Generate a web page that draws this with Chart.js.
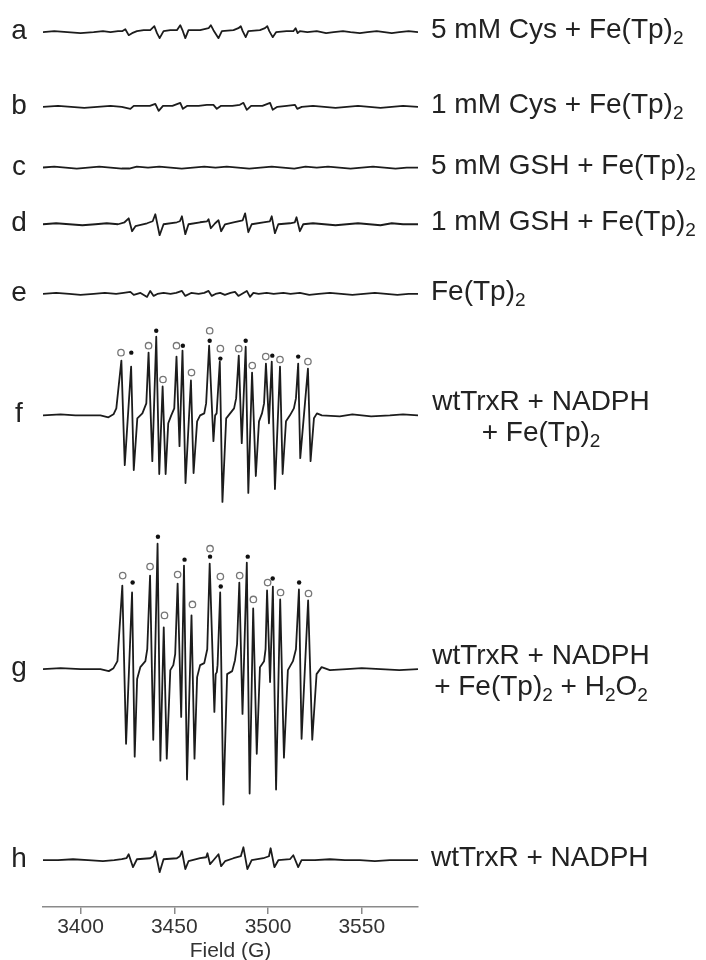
<!DOCTYPE html>
<html>
<head>
<meta charset="utf-8">
<script src="https://cdn.jsdelivr.net/npm/chart.js@4.4.0/dist/chart.umd.min.js"></script>
<style>
  html, body { margin: 0; padding: 0; background: #fff; }
  canvas { display: block; }
</style>
</head>
<body>
<canvas id="eprChart" width="706" height="960"></canvas>
<script>
// stacked EPR spectra, top to bottom
const traceIds = ['a', 'b', 'c', 'd', 'e', 'f', 'g', 'h'];
const traceLabels = [
  ['5 mM Cys + Fe(Tp)_2'],
  ['1 mM Cys + Fe(Tp)_2'],
  ['5 mM GSH + Fe(Tp)_2'],
  ['1 mM GSH + Fe(Tp)_2'],
  ['Fe(Tp)_2'],
  ['wtTrxR + NADPH', '+ Fe(Tp)_2'],
  ['wtTrxR + NADPH', '+ Fe(Tp)_2 + H_2O_2'],
  ['wtTrxR + NADPH'],
];
const tickFields = [3400, 3450, 3500, 3550];

// [field (G), signal]
const traceA = [[3380,0],[3386,1],[3393,0],[3400,-1],[3407,0],[3412,1],[3416,0],[3420,1],[3422.2,1],[3423.9,3],[3425.7,-3],[3427.5,-1],[3430.1,1],[3433.7,2],[3437.2,2],[3439.4,6],[3440.8,-1],[3442.2,-6],[3444.3,1],[3447.9,2],[3451.4,2],[3453.2,7],[3454.6,1],[3455.9,-6],[3457.6,2],[3463.8,2],[3468.3,4],[3469.5,7],[3470.9,2],[3473.6,-6],[3475.4,1],[3481.6,2],[3484.2,4],[3485.5,6],[3486.5,1],[3488.1,-5],[3489.5,1],[3495.7,2],[3498.4,4],[3499.6,6],[3500.7,1],[3502.5,-5],[3504.3,0],[3509.9,1],[3513.5,1],[3514.7,4],[3515.8,-1],[3517,1],[3521,0],[3526,1],[3531,-1],[3535,0],[3540,1],[3544,0],[3549,-1],[3553,0],[3558,1],[3562,0],[3566,-1],[3570,0],[3575,1],[3580,0]];
const traceB = [[3380,0],[3388,1],[3395,0],[3402,-1],[3409,0],[3416,1],[3422,0],[3426.6,-2],[3428.4,1],[3433,1],[3437,1],[3439.9,3],[3441.7,-4],[3444,1],[3449,1],[3453.2,4],[3454.6,-2],[3457,1],[3463,1],[3467.4,2],[3470.9,2],[3472.7,-2],[3475,1],[3481,1],[3485,2],[3486.9,4],[3488.7,-3],[3491,1],[3497,1],[3501.1,4],[3502.5,-3],[3505,0],[3510,1],[3514.4,2],[3515.6,-2],[3518,0],[3524,1],[3530,0],[3536,-1],[3542,0],[3548,1],[3554,0],[3560,-1],[3566,0],[3572,1],[3580,0]];
const traceC = [[3380,0],[3386,1],[3392,0],[3398,-1],[3404,0],[3410,1],[3416,0],[3422,-1],[3426,-1],[3430,1],[3436,0],[3442,1],[3448,0],[3454,-1],[3460,0],[3466,1],[3472,0],[3478,1],[3484,0],[3490,-1],[3496,0],[3502,1],[3508,0],[3514,-1],[3520,1],[3526,0],[3532,1],[3538,0],[3544,-1],[3550,0],[3556,1],[3562,0],[3568,-1],[3574,0],[3580,0]];
const traceD = [[3380,0],[3387,1],[3394,0],[3401,-1],[3408,0],[3414,1],[3420,0],[3423.5,2],[3425.7,6],[3427.5,-7],[3429.3,-2],[3435.5,1],[3438.5,3],[3439.9,10],[3442.2,-11],[3444.3,0],[3451.4,2],[3453,3],[3454.1,8],[3455.9,-10],[3457.6,0],[3463.8,2],[3467.5,3],[3468.3,5],[3469.5,-4],[3471.8,1],[3473.6,4],[3475,-7],[3477.1,0],[3481.6,2],[3486.5,4],[3487.8,11],[3489.5,-8],[3491.3,0],[3497.5,2],[3501,3],[3502,8],[3503.7,-9],[3505.5,0],[3511.7,1],[3514.3,2],[3515.2,7],[3517,-7],[3518.8,0],[3524,1],[3530,0],[3536,-1],[3542,0],[3548,1],[3554,0],[3560,-1],[3566,1],[3572,0],[3580,0]];
const traceE = [[3380,0],[3387,1],[3394,0],[3400,-1],[3407,0],[3413,1],[3419,0],[3423,1],[3426.6,2],[3428.4,-1],[3432,1],[3435.5,-3],[3437.2,3],[3439,-2],[3441,0],[3444.3,1],[3448,0],[3451,1],[3454.1,3],[3455.9,-2],[3459,1],[3463,0],[3466,1],[3468.3,3],[3470,-2],[3472,0],[3474.5,1],[3477,-1],[3480,1],[3482.4,2],[3484.2,-2],[3486,0],[3488.7,3],[3490.4,-3],[3492.2,1],[3495,0],[3499.3,1],[3503,0],[3508.2,1],[3512,0],[3517,1],[3522,-1],[3527,0],[3533,1],[3539,0],[3545,-1],[3551,0],[3557,1],[3563,0],[3569,-1],[3575,0],[3580,0]];
const traceF = [[3380,0],[3389.4,1],[3397.3,0],[3410.6,0],[3414.9,-2],[3417.6,1],[3419.1,7],[3421.8,55],[3423.6,-50],[3427.0,49],[3428.4,-55],[3430.3,-3],[3433.0,2],[3435.1,12],[3436.3,63],[3438.3,-46],[3440.4,79],[3442.0,-59],[3443.8,29],[3445.4,-59],[3446.8,-8],[3448.4,0],[3450.0,7],[3451.2,59],[3452.8,-31],[3454.4,65],[3456.0,-68],[3458.9,35],[3460.3,-58],[3462.2,-6],[3463.8,0],[3466.0,2],[3467.0,12],[3468.6,70],[3470.9,-26],[3471.8,0],[3472.6,2],[3474.3,54],[3475.7,-87],[3477.7,-3],[3479.8,2],[3481.9,7],[3483.0,17],[3484.4,60],[3486.0,-28],[3488.1,69],[3489.5,-78],[3491.5,43],[3493.5,-61],[3495.2,-6],[3496.8,2],[3497.9,12],[3498.9,52],[3500.5,-8],[3502.0,54],[3503.7,-74],[3506.4,49],[3507.8,-59],[3509.6,-6],[3511.7,0],[3513.8,7],[3514.9,17],[3516.1,52],[3517.2,-43],[3521.3,47],[3522.7,-46],[3524.5,-3],[3526.1,2],[3528.7,0],[3538.3,-1],[3545,1],[3555,-1],[3565,0],[3572,1],[3580,0]];
const traceG = [[3380,0],[3389.4,1],[3400,0],[3410.6,0],[3415.1,-2],[3417.6,1],[3419.7,8],[3422.3,84],[3424.3,-75],[3427.5,77],[3428.9,-88],[3430.2,-10],[3431.9,2],[3434.6,8],[3435.6,20],[3437.1,94],[3438.8,-71],[3441.1,126],[3442.6,-92],[3444.4,42],[3446.0,-90],[3447.9,-1],[3449.5,4],[3450.5,15],[3451.8,86],[3453.7,-48],[3455.2,104],[3456.8,-111],[3459.2,54],[3460.8,-90],[3462.2,-8],[3463.8,4],[3466.0,6],[3467.6,20],[3468.9,106],[3471.4,-43],[3472.1,-5],[3472.7,-3],[3473.1,4],[3474.5,77],[3476.2,-136],[3478.2,-5],[3480.9,-2],[3482.4,9],[3483.5,25],[3484.7,87],[3486.4,-45],[3488.7,107],[3490.2,-125],[3492.1,61],[3494.0,-85],[3495.7,2],[3497.9,8],[3498.7,20],[3499.5,79],[3501.1,-13],[3502.6,83],[3504.3,-121],[3506.5,70],[3508.5,-89],[3510.6,-1],[3513.3,8],[3514.9,20],[3516.5,80],[3517.9,-70],[3521.4,69],[3523.6,-71],[3525.9,-5],[3528.6,2],[3533.0,-1],[3542,0],[3550,1],[3560,0],[3570,-1],[3580,0]];
const traceH = [[3380,0],[3388,0],[3396,1],[3404,0],[3412,-1],[3418,0],[3422,1],[3424.5,2],[3425.7,6],[3428,-7],[3430.1,1],[3437.2,2],[3439,4],[3439.9,9],[3442.2,-12],[3444.3,1],[3451.4,2],[3453,4],[3454.1,9],[3455.9,-9],[3457.6,-1],[3463.8,2],[3467,3],[3467.7,7],[3469.1,-4],[3470.9,0],[3473.6,6],[3475,-6],[3477.1,-1],[3481.6,2],[3485.5,4],[3486.9,13],[3489,-9],[3491.3,0],[3497.5,2],[3500.5,4],[3501.4,12],[3503.4,-7],[3505.5,0],[3511.7,1],[3513.5,5],[3516.1,-7],[3517.9,0],[3525,0],[3533,1],[3541,0],[3549,0],[3557,-1],[3565,0],[3573,0],[3580,0]];

// line assignments above the f and g spectra: open and filled circles
const openMarksF = [[3421.6,63],[3436.3,70],[3444.0,36],[3451.2,70],[3459.2,43],[3468.9,85],[3474.6,67],[3484.4,67],[3491.6,50],[3498.8,59],[3506.4,56],[3521.3,54]];
const filledMarksF = [[3427.1,63],[3440.4,85],[3454.6,70],[3468.9,75],[3474.6,57],[3488.1,75],[3502.3,60],[3516.1,59]];
const openMarksG = [[3422.5,94],[3437.1,103],[3444.8,54],[3451.8,95],[3459.7,65],[3469.1,121],[3474.6,93],[3484.9,94],[3492.2,70],[3499.8,87],[3506.7,77],[3521.6,76]];
const filledMarksG = [[3427.8,87],[3441.3,133],[3455.5,110],[3469.1,113],[3474.8,83],[3489.2,113],[3502.5,91],[3516.6,87]];

// vertical stacking of the traces
const offsets = [879, 804, 743, 686, 616, 494, 239, 47];

const FONT = '"Liberation Sans", Arial, Helvetica, sans-serif';
const MAIN_FONT = '28px ' + FONT;
const SUB_FONT = '19px ' + FONT;
const INK = '#222';

const traces = [traceA, traceB, traceC, traceD, traceE, traceF, traceG, traceH];

const lineSets = traces.map((pts, i) => ({
  data: pts.map(([x, v]) => ({ x: x, y: offsets[i] + v })),
  borderColor: '#1c1c1c',
  borderWidth: 1.8,
  borderJoinStyle: 'round',
  pointRadius: 0,
  tension: 0,
  fill: false,
}));

function markSet(marks, off, filled) {
  return {
    data: marks.map(([x, v]) => ({ x: x, y: off + v })),
    showLine: false,
    pointStyle: 'circle',
    pointRadius: filled ? 2.2 : 3.2,
    pointBorderWidth: filled ? 0 : 1.3,
    pointBorderColor: filled ? '#111' : '#777',
    pointBackgroundColor: filled ? '#111' : '#fff',
  };
}

const markSets = [
  markSet(openMarksF, offsets[5], false),
  markSet(filledMarksF, offsets[5], true),
  markSet(openMarksG, offsets[6], false),
  markSet(filledMarksG, offsets[6], true),
];

// text with "_2" style subscripts
function drawRich(ctx, text, x, y, align) {
  const parts = text.split(/_(\d)/);
  let w = 0;
  parts.forEach((p, i) => {
    ctx.font = i % 2 ? SUB_FONT : MAIN_FONT;
    w += ctx.measureText(p).width;
  });
  let cx = align === 'center' ? x - w / 2 : x;
  ctx.textAlign = 'left';
  parts.forEach((p, i) => {
    ctx.font = i % 2 ? SUB_FONT : MAIN_FONT;
    ctx.fillText(p, cx, i % 2 ? y + 6 : y);
    cx += ctx.measureText(p).width;
  });
}

const traceText = {
  id: 'traceText',
  afterDraw(chart) {
    const { ctx, chartArea, scales } = chart;
    ctx.save();
    ctx.fillStyle = INK;
    ctx.textBaseline = 'alphabetic';
    traceIds.forEach((id, i) => {
      const y = scales.y.getPixelForValue(offsets[i]);
      ctx.font = MAIN_FONT;
      ctx.textAlign = 'center';
      ctx.fillText(id, 19, y + 7);
      const lines = traceLabels[i];
      if (lines.length === 1) {
        drawRich(ctx, lines[0], chartArea.right + 13, y + 6, 'left');
      } else {
        lines.forEach((ln, k) => drawRich(ctx, ln, chartArea.right + 123, y - 5 + k * 31, 'center'));
      }
    });
    ctx.restore();
  }
};

new Chart(document.getElementById('eprChart'), {
  type: 'line',
  data: { datasets: [...lineSets, ...markSets] },
  options: {
    responsive: false,
    animation: false,
    devicePixelRatio: 1,
    layout: { padding: { left: 43, right: 288, top: -4, bottom: -2 } },
    plugins: {
      legend: { display: false },
      tooltip: { enabled: false },
    },
    scales: {
      x: {
        type: 'linear',
        min: 3380,
        max: 3580,
        afterBuildTicks: (axis) => { axis.ticks = tickFields.map(v => ({ value: v })); },
        grid: { drawOnChartArea: false, drawTicks: true, tickLength: 7, color: '#8a8a8a', lineWidth: 1.5 },
        border: { display: true, color: '#8a8a8a', width: 1.5 },
        ticks: {
          color: '#333',
          font: { size: 21, family: FONT, lineHeight: 1 },
          padding: 3,
          maxRotation: 0,
          callback: (v) => String(v),
        },
        title: {
          display: true,
          text: 'Field (G)',
          color: '#333',
          font: { size: 21, family: FONT, lineHeight: 1 },
          padding: { top: 0, bottom: 0 },
        },
      },
      y: { display: false, min: 0, max: 906 },
    },
  },
  plugins: [traceText],
});
</script>
</body>
</html>
